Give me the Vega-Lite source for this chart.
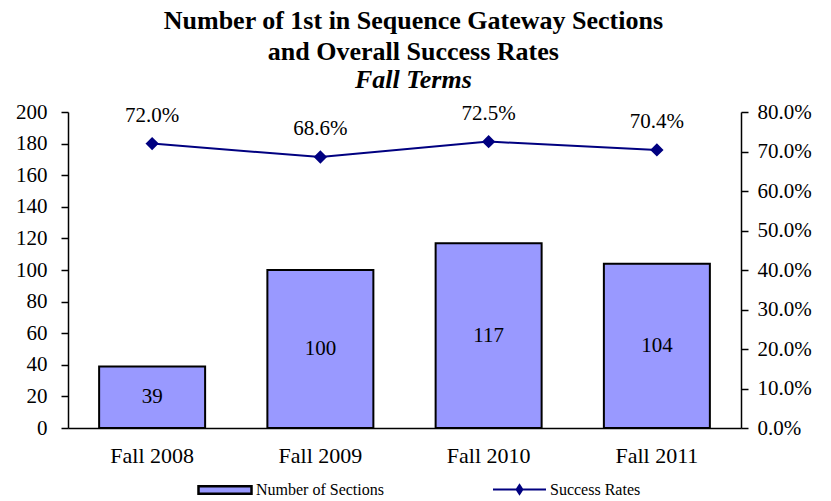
{
  "$schema": "https://vega.github.io/schema/vega-lite/v6.json",
  "autosize": {"type": "none"},
  "width": 673,
  "height": 316,
  "padding": {"left": 68, "top": 112, "right": 90, "bottom": 73},
  "background": "white",
  "config": {
    "view": {"stroke": null},
    "font": "Liberation Serif",
    "axis": {"grid": false, "labelFont": "Liberation Serif", "labelFontSize": 21, "labelColor": "black", "domainColor": "black", "tickColor": "black", "domainWidth": 1.5, "tickWidth": 1.5}
  },
  "title": {
    "text": ["Number of 1st in  Sequence Gateway Sections", "and Overall Success Rates"],
    "subtitle": "Fall Terms",
    "font": "Liberation Serif",
    "fontSize": 26,
    "fontWeight": "bold",
    "color": "black",
    "lineHeight": 31,
    "subtitleFont": "Liberation Serif",
    "subtitleFontSize": 26,
    "subtitleFontWeight": "bold",
    "subtitleFontStyle": "italic",
    "subtitleColor": "black",
    "subtitlePadding": 2,
    "anchor": "middle",
    "frame": "bounds",
    "offset": 8
  },
  "data": {
    "values": [
      {"Term": "Fall 2008", "Sections": 39, "Rate": 0.72},
      {"Term": "Fall 2009", "Sections": 100, "Rate": 0.686},
      {"Term": "Fall 2010", "Sections": 117, "Rate": 0.725},
      {"Term": "Fall 2011", "Sections": 104, "Rate": 0.704}
    ]
  },
  "encoding": {
    "x": {"field": "Term", "type": "nominal", "sort": null, "title": null,
      "scale": {"paddingInner": 0.37, "paddingOuter": 0.185},
      "axis": {"labelAngle": 0, "ticks": false, "labelPadding": 17, "labelFontSize": 22}}
  },
  "layer": [
    {
      "layer": [
        {
          "mark": {"type": "bar", "stroke": "black", "strokeWidth": 2},
          "encoding": {
            "y": {"field": "Sections", "type": "quantitative", "title": null,
              "scale": {"domain": [0, 200]},
              "axis": {"values": [0,20,40,60,80,100,120,140,160,180,200], "tickSize": 7, "labelPadding": 14}},
            "fill": {"datum": "Number of Sections", "type": "nominal",
              "scale": {"range": ["#9999FF"]},
              "legend": {"orient": "none", "legendX": 129, "legendY": 350, "title": null,
                "symbolType": "M-1,-0.14L1,-0.14L1,0.14L-1,0.14Z", "symbolSize": 2809,
                "symbolStrokeColor": "black", "symbolStrokeWidth": 2.5, "symbolOpacity": 1,
                "labelFont": "Liberation Serif", "labelFontSize": 16, "labelColor": "black", "labelOffset": 3}}
          }
        },
        {
          "transform": [{"calculate": "datum.Sections / 2", "as": "mid"}],
          "mark": {"type": "text", "fontSize": 21, "color": "black", "baseline": "middle"},
          "encoding": {
            "y": {"field": "mid", "type": "quantitative", "title": null,
              "axis": {"values": [0,20,40,60,80,100,120,140,160,180,200], "tickSize": 7, "labelPadding": 14}},
            "text": {"field": "Sections", "type": "quantitative"}
          }
        }
      ]
    },
    {
      "layer": [
        {
          "mark": {"type": "line", "strokeWidth": 2, "point": {"shape": "diamond", "size": 110, "filled": true, "color": "#000080"}},
          "encoding": {
            "y": {"field": "Rate", "type": "quantitative", "title": null,
              "scale": {"domain": [0, 0.8]},
              "axis": {"orient": "right", "format": ".1%", "values": [0,0.1,0.2,0.3,0.4,0.5,0.6,0.7,0.8], "tickSize": 7, "labelPadding": 9}},
            "stroke": {"datum": "Success Rates", "type": "nominal",
              "scale": {"range": ["#000080"]},
              "legend": {"orient": "none", "legendX": 424, "legendY": 350, "title": null,
                "symbolType": "M-1,0L1,0M0,-0.17L0.11,0L0,0.17L-0.11,0Z", "symbolSize": 2809,
                "symbolStrokeWidth": 2, "symbolFillColor": "#000080", "symbolOpacity": 1,
                "labelFont": "Liberation Serif", "labelFontSize": 16, "labelColor": "black", "labelOffset": 3}}
          }
        },
        {
          "mark": {"type": "text", "fontSize": 21, "color": "black", "baseline": "middle", "dy": -28},
          "encoding": {
            "y": {"field": "Rate", "type": "quantitative", "title": null,
              "axis": {"orient": "right", "format": ".1%", "values": [0,0.1,0.2,0.3,0.4,0.5,0.6,0.7,0.8], "tickSize": 7, "labelPadding": 9}},
            "text": {"field": "Rate", "type": "quantitative", "format": ".1%"}
          }
        }
      ]
    }
  ],
  "resolve": {"scale": {"y": "independent", "fill": "independent", "stroke": "independent"}}
}
